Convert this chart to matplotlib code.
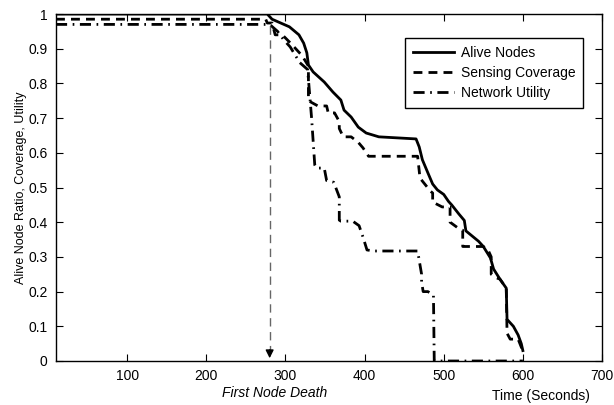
import numpy as np
import matplotlib.pyplot as plt

plt.rcParams['font.family'] = ['Liberation Sans', 'DejaVu Sans']

# Datos
t_alive = [10, 277, 283, 293, 305, 317, 323, 327, 329, 335, 349, 360, 370, 374, 383,
           392, 402, 418, 465, 469, 473, 480, 486, 492, 500, 506, 510, 519, 526, 528,
           544, 550, 559, 563, 571, 579, 580, 588, 594, 598, 600]
alive = [1.0, 1.0, 0.985, 0.975, 0.963, 0.94, 0.916, 0.888, 0.853, 0.833, 0.804, 0.775,
         0.752, 0.723, 0.703, 0.674, 0.657, 0.646, 0.64, 0.617, 0.58, 0.542, 0.51, 0.493,
         0.48, 0.46, 0.45, 0.424, 0.405, 0.375, 0.345, 0.33, 0.297, 0.265, 0.236, 0.21,
         0.12, 0.10, 0.075, 0.05, 0.03]

t_cov = [10, 275, 277, 283, 287, 296, 306, 321, 329, 329, 337, 341, 352, 354, 362, 368,
         368, 373, 383, 392, 398, 405, 458, 467, 470, 476, 483, 486, 486, 498, 508, 508,
         520, 524, 524, 550, 556, 560, 560, 566, 571, 579, 580, 584, 594, 598, 600]
coverage = [0.985, 0.985, 0.974, 0.974, 0.94, 0.94, 0.917, 0.88, 0.85, 0.75, 0.74, 0.735,
            0.735, 0.715, 0.715, 0.69, 0.67, 0.646, 0.646, 0.63, 0.614, 0.59, 0.59, 0.59,
            0.527, 0.51, 0.49, 0.484, 0.458, 0.444, 0.444, 0.40, 0.38, 0.377, 0.33, 0.33,
            0.32, 0.30, 0.25, 0.24, 0.236, 0.21, 0.08, 0.063, 0.063, 0.04, 0.03]

t_util = [10, 280, 290, 298, 306, 318, 328, 333, 337, 339, 349, 352, 361, 368, 368, 370,
          385, 393, 398, 403, 412, 467, 472, 472, 474, 480, 487, 488, 600]
utility = [0.97, 0.97, 0.95, 0.925, 0.905, 0.86, 0.84, 0.70, 0.565, 0.556, 0.556, 0.52,
           0.515, 0.473, 0.406, 0.403, 0.403, 0.39, 0.357, 0.32, 0.317, 0.317, 0.25,
           0.228, 0.2, 0.2, 0.19, 0.0, 0.0]

t_first_death = 280
y_first_death = 0.965

xticks = [100, 200, 300, 400, 500, 600, 700]
yticks = [0, 0.1, 0.2, 0.3, 0.4, 0.5, 0.6, 0.7, 0.8, 0.9, 1]
ytick_labels = ['0', '0.1', '0.2', '0.3', '0.4', '0.5', '0.6', '0.7', '0.8', '0.9', '1']

fig = plt.figure(figsize=(6.14, 4.05), dpi=100)
ax = fig.add_axes([56 / 614, 44 / 405, 546 / 614, 347 / 405])

ax.plot(t_alive, alive, 'k-', lw=2, label='Alive Nodes')
ax.plot(t_cov, coverage, 'k', lw=2, dashes=(3.2, 2.2), label='Sensing Coverage')
ax.plot(t_util, utility, 'k', lw=2, dashes=(4, 2, 0.6, 2), label='Network Utility')

# flecha del primer nodo muerto
ax.plot([t_first_death, t_first_death], [y_first_death, 0.03], color='0.4',
        lw=1, dashes=(6, 4))
ax.annotate('', xy=(t_first_death, 0.0), xytext=(t_first_death, 0.04),
            arrowprops=dict(arrowstyle='-|>', color='k', lw=1, mutation_scale=12))

ax.set_xlim(10, 700)
ax.set_ylim(0, 1)
ax.set_xticks(xticks)
ax.set_yticks(yticks)
ax.set_yticklabels(ytick_labels)
ax.tick_params(direction='in', top=True, right=True, length=5, width=0.8,
               labelsize=10, pad=6)
for s in ax.spines.values():
    s.set_linewidth(1)

ax.set_ylabel('Alive Node Ratio, Coverage, Utility', fontsize=9, labelpad=1)

fig.text(275 / 614, 1 - 393 / 405, 'First Node Death', style='italic',
         fontsize=10, ha='center', va='center')
fig.text(541 / 614, 1 - 396 / 405, 'Time (Seconds)', fontsize=10,
         ha='center', va='center')

leg = ax.legend(loc='upper right', bbox_to_anchor=(0.966, 0.931), fontsize=10,
                handlelength=3.0, handletextpad=0.5, fancybox=False, framealpha=1,
                edgecolor='k', borderpad=0.55, labelspacing=0.45, borderaxespad=0)
leg.get_frame().set_linewidth(1)

fig.savefig('out.png', dpi=100)
